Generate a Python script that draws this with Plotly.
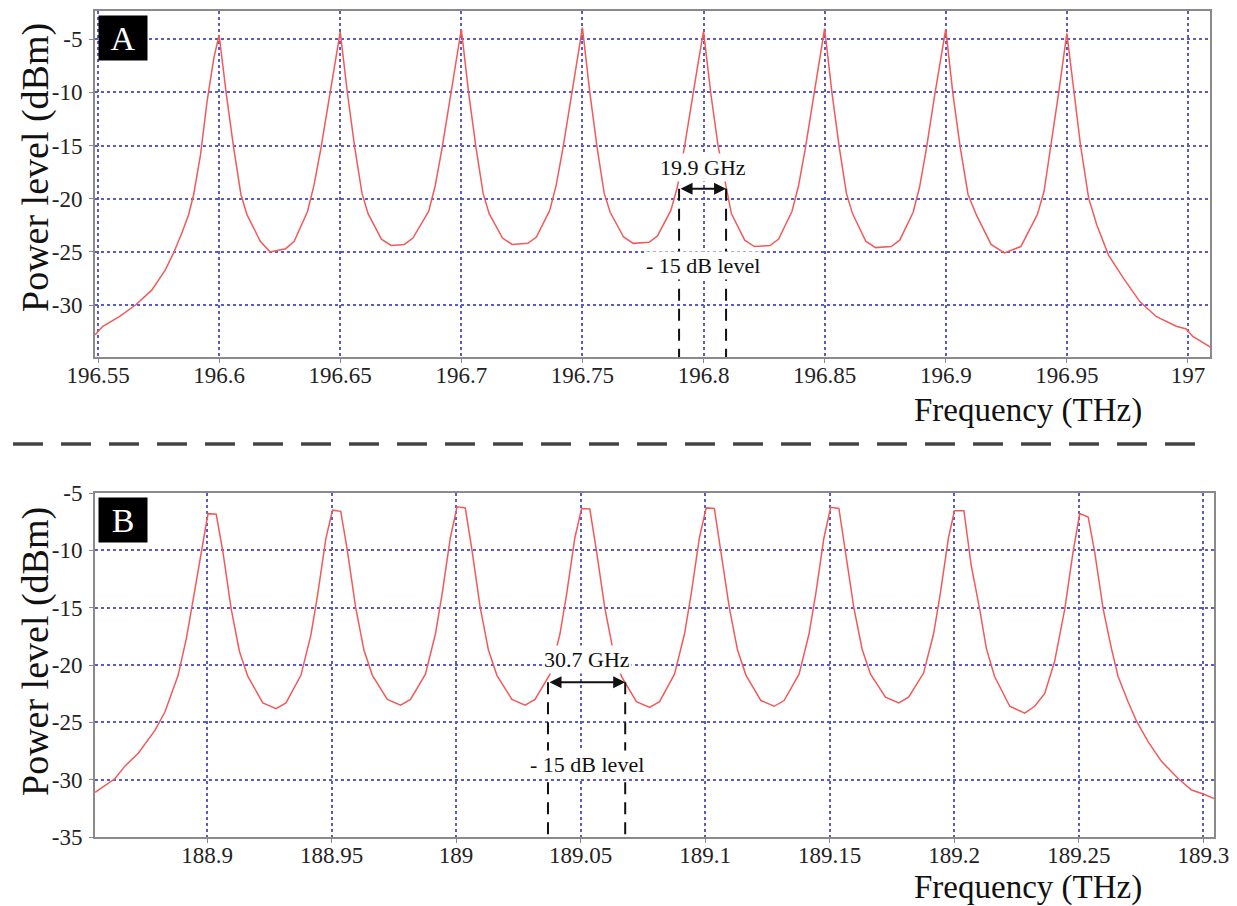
import plotly.graph_objects as go

# ---------------- Data: panel A ----------------
freq_a = [
    196.5488, 196.552, 196.5588, 196.5655, 196.5722, 196.5778, 196.5812, 196.5845, 196.5874, 196.5895,
    196.5923, 196.595, 196.5978, 196.6,
    196.603, 196.606, 196.609, 196.6115, 196.617, 196.621, 196.6275, 196.631, 196.6365, 196.6392,
    196.642, 196.6454, 196.6475, 196.65,
    196.653, 196.656, 196.659, 196.6615, 196.667, 196.671, 196.6765, 196.68, 196.6865, 196.6892,
    196.692, 196.6954, 196.6975, 196.7,
    196.703, 196.706, 196.709, 196.7115, 196.717, 196.721, 196.7275, 196.731, 196.7365, 196.7392,
    196.742, 196.7454, 196.7475, 196.75,
    196.753, 196.756, 196.759, 196.7615, 196.767, 196.771, 196.7775, 196.781, 196.7865, 196.7892,
    196.792, 196.7954, 196.7975, 196.8,
    196.803, 196.806, 196.8093, 196.8115, 196.817, 196.821, 196.8275, 196.831, 196.8365, 196.8392,
    196.842, 196.8454, 196.8475, 196.85,
    196.853, 196.856, 196.859, 196.8615, 196.867, 196.871, 196.8775, 196.881, 196.8865, 196.8892,
    196.892, 196.8954, 196.8975, 196.9,
    196.903, 196.906, 196.9092, 196.9126, 196.9187, 196.9242, 196.931, 196.9378, 196.9406, 196.9433,
    196.9467, 196.95,
    196.9529, 196.9556, 196.959, 196.9624, 196.9672, 196.9734, 196.9802, 196.987, 196.9952, 196.9993,
    197.002, 197.0096,
]
power_a = [
    -32.8, -32.0, -31.1, -30.0, -28.6, -26.7, -25.1, -23.3, -21.5, -19.6,
    -15.9, -10.9, -6.8, -4.6,
    -10.2, -15.2, -19.6, -21.5, -24.0, -25.0, -24.7, -24.0, -21.2, -18.7,
    -15.3, -10.5, -7.7, -4.3,
    -10.1, -15.2, -19.5, -21.4, -23.8, -24.4, -24.3, -23.7, -21.2, -18.8,
    -15.3, -10.4, -7.6, -4.05,
    -10.0, -15.1, -19.5, -21.4, -23.7, -24.3, -24.2, -23.6, -21.1, -18.7,
    -15.2, -10.3, -7.4, -3.9,
    -9.9, -15.1, -19.5, -21.3, -23.6, -24.2, -24.1, -23.5, -21.1, -18.9,
    -15.3, -10.4, -7.6, -4.25,
    -10.1, -15.0, -19.0, -21.4, -23.9, -24.5, -24.4, -23.8, -21.2, -18.8,
    -15.3, -10.3, -7.5, -4.0,
    -10.0, -15.1, -19.5, -21.4, -24.0, -24.6, -24.5, -23.9, -21.3, -18.9,
    -15.3, -10.3, -7.6, -4.05,
    -10.2, -15.2, -19.6, -21.5, -24.3, -25.1, -24.5, -21.5, -19.3, -15.25,
    -9.9, -4.45,
    -9.9, -14.9, -19.95, -22.5, -25.3, -27.5, -29.7, -31.1, -32.0, -32.25,
    -32.96, -34.0,
]

# ---------------- Data: panel B ----------------
freq_b = [
    188.8551, 188.8631, 188.8671, 188.8724, 188.8791, 188.8831, 188.8884, 188.8917, 188.895, 188.8977,
    188.9004, 188.9037, 188.9064, 188.9097, 188.913, 188.9164, 188.9224, 188.9277, 188.9317, 188.9377,
    188.9417, 188.9444, 188.9477,
    188.9504, 188.9537, 188.9564, 188.9597, 188.963, 188.9664, 188.9724, 188.9777, 188.9817, 188.9877,
    188.9917, 188.9944, 188.9977,
    189.0004, 189.0037, 189.0064, 189.0097, 189.013, 189.0164, 189.0224, 189.0277, 189.0317, 189.0377,
    189.0417, 189.0444, 189.0477,
    189.0504, 189.0537, 189.0564, 189.0597, 189.063, 189.0664, 189.0724, 189.0777, 189.0817, 189.0877,
    189.0917, 189.0944, 189.0977,
    189.1004, 189.1037, 189.1064, 189.1097, 189.113, 189.1164, 189.1224, 189.1277, 189.1317, 189.1377,
    189.1417, 189.1444, 189.1477,
    189.1504, 189.1537, 189.1564, 189.1597, 189.163, 189.1664, 189.1724, 189.1777, 189.1817, 189.1877,
    189.1917, 189.1944, 189.1977,
    189.2001, 189.2039, 189.2068, 189.2102, 189.2129, 189.2162, 189.2223, 189.2283, 189.2323, 189.2363,
    189.2403, 189.2444, 189.2477,
    189.2504, 189.2538, 189.2564, 189.2598, 189.2631, 189.2658, 189.2698, 189.2732, 189.2779, 189.2832,
    189.2899, 189.2953, 189.3, 189.3044,
]
power_b = [
    -31.1, -29.9, -28.8, -27.7, -25.7, -24.1, -20.9, -17.7, -13.6, -10.0,
    -6.8, -6.85, -10.15, -15.1, -18.8, -21.0, -23.3, -23.8, -23.3, -20.9,
    -17.4, -13.9, -9.0,
    -6.5, -6.6, -10.1, -15.0, -18.7, -20.9, -23.0, -23.5, -23.0, -20.8,
    -17.3, -13.8, -8.9,
    -6.2, -6.3, -10.0, -15.0, -18.7, -20.9, -23.0, -23.5, -23.0, -20.8,
    -17.3, -13.8, -8.9,
    -6.35, -6.4, -10.1, -15.0, -18.7, -21.0, -23.2, -23.7, -23.2, -20.8,
    -17.3, -13.8, -8.9,
    -6.3, -6.35, -10.1, -15.0, -18.7, -20.9, -23.1, -23.6, -23.1, -20.8,
    -17.3, -13.8, -8.9,
    -6.25, -6.35, -10.1, -15.0, -18.6, -20.8, -22.8, -23.3, -22.8, -20.7,
    -17.3, -13.8, -8.9,
    -6.55, -6.55, -11.3, -15.1, -18.55, -21.0, -23.6, -24.2, -23.6, -22.5,
    -19.7, -15.1, -10.15,
    -6.8, -7.1, -10.15, -15.1, -18.55, -21.0, -23.2, -24.9, -26.7, -28.4,
    -29.9, -30.9, -31.25, -31.65,
]

# Tick values
xticks_a = [196.55, 196.6, 196.65, 196.7, 196.75, 196.8, 196.85, 196.9, 196.95, 197.0]
xtick_text_a = ["196.55", "196.6", "196.65", "196.7", "196.75", "196.8", "196.85", "196.9", "196.95", "197"]
yticks_a = [-30, -25, -20, -15, -10, -5]
xticks_b = [188.9, 188.95, 189.0, 189.05, 189.1, 189.15, 189.2, 189.25, 189.3]
xtick_text_b = ["188.9", "188.95", "189", "189.05", "189.1", "189.15", "189.2", "189.25", "189.3"]
yticks_b = [-35, -30, -25, -20, -15, -10, -5]
ytick_text_a = ["-30", "-25", "-20", "-15", "-10", "-5"]
ytick_text_b = ["-35", "-30", "-25", "-20", "-15", "-10", "-5"]

# Spacing markers (-15 dB level width)
mark_a = {"x0": 196.7899, "x1": 196.8093, "y": -19.07, "ybot": -34.89, "label": "19.9 GHz"}
mark_b = {"x0": 189.0369, "x1": 189.0679, "y": -21.5, "ybot": -35.0, "label": "30.7 GHz"}

SERIF = "Liberation Serif"
LINE = "#f25a5a"
GRID = "#5a5ac8"
FRAME = "#8a8a8a"

fig = go.Figure()
fig.add_trace(go.Scatter(x=freq_a, y=power_a, mode="lines",
                         line=dict(color=LINE, width=1.5), xaxis="x", yaxis="y", showlegend=False))
fig.add_trace(go.Scatter(x=freq_b, y=power_b, mode="lines",
                         line=dict(color=LINE, width=1.5), xaxis="x2", yaxis="y2", showlegend=False))

W, H = 1237, 906
ml, mr, mt, mb = 95, 23, 11, 69
pw = W - ml - mr
ph = H - mt - mb


def px_x(p):
    return (p - ml) / pw


def px_y(p):
    return (H - mb - p) / ph


axis_common = dict(
    showgrid=True, gridcolor=GRID, gridwidth=1.5, griddash="dot",
    showline=True, linecolor=FRAME, linewidth=2, mirror=True,
    ticks="outside", ticklen=4, tickcolor=FRAME,
    tickfont=dict(family=SERIF, size=23, color="#222"),
    zeroline=False, automargin=False,
)

fig.update_layout(
    template="none",
    width=W, height=H, autosize=False,
    margin=dict(l=ml, r=mr, t=mt, b=mb, pad=0),
    paper_bgcolor="white", plot_bgcolor="white",
    font=dict(family=SERIF, color="#222"),
    xaxis=dict(domain=[0, px_x(1210)], range=[196.54876, 197.0091], anchor="y",
               tickvals=xticks_a, ticktext=xtick_text_a, ticklabelstandoff=-8, **axis_common),
    yaxis=dict(domain=[px_y(357), 1.0], range=[-34.89, -2.34], anchor="x",
               tickvals=yticks_a, ticktext=ytick_text_a, ticklabelstandoff=2, **axis_common),
    xaxis2=dict(domain=[0, 1.0], range=[188.85503, 189.3043], anchor="y2",
                tickvals=xticks_b, ticktext=xtick_text_b, ticklabelstandoff=-8, **axis_common),
    yaxis2=dict(domain=[0, px_y(493)], range=[-35, -5], anchor="x2",
                tickvals=yticks_b, ticktext=ytick_text_b, ticklabelstandoff=2, **axis_common),
)

annotations = []
shapes = []

for m, xr, yr in [(mark_a, "x", "y"), (mark_b, "x2", "y2")]:
    for xv in (m["x0"], m["x1"]):
        shapes.append(dict(type="line", xref=xr, yref=yr, x0=xv, x1=xv, y0=m["y"], y1=m["ybot"],
                           line=dict(color="#111", width=2, dash="12px,8px")))
    annotations.append(dict(xref=xr, yref=yr, x=m["x1"], y=m["y"], ax=m["x0"], ay=m["y"],
                            axref=xr, ayref=yr, text="", showarrow=True, arrowhead=2,
                            arrowside="end+start", arrowsize=1.2, arrowwidth=2, arrowcolor="#111",
                            standoff=0, startstandoff=0))
    xc = (m["x0"] + m["x1"]) / 2
    annotations.append(dict(xref=xr, yref=yr, x=xc, y=m["y"] + 2.0, text=m["label"], showarrow=False,
                            font=dict(family=SERIF, size=22, color="#111"), bgcolor="white",
                            yanchor="middle"))
    annotations.append(dict(xref=xr, yref=yr, x=xc, y=m["y"] - 7.2, text="- 15 dB level",
                            showarrow=False, font=dict(family=SERIF, size=22, color="#111"),
                            bgcolor="white", yanchor="middle"))

# Panel letters
for letter, xr, yr in [("A", "x domain", "y domain"), ("B", "x2 domain", "y2 domain")]:
    annotations.append(dict(xref=xr, yref=yr, x=0.003, y=0.988, xanchor="left", yanchor="top",
                            text=letter, showarrow=False, bgcolor="black", width=46, height=42,
                            font=dict(family=SERIF, size=34, color="white")))

# Axis titles
for yc in (168, 652):
    annotations.append(dict(xref="paper", yref="paper", x=px_x(35), y=px_y(yc), text="Power level (dBm)",
                            showarrow=False, textangle=-90, xanchor="center", yanchor="middle",
                            font=dict(family=SERIF, size=38, color="#111")))
for yc in (410, 887):
    annotations.append(dict(xref="paper", yref="paper", x=px_x(1028), y=px_y(yc), text="Frequency (THz)",
                            showarrow=False, xanchor="center", yanchor="middle", borderpad=0,
                            font=dict(family=SERIF, size=33, color="#111")))

# Separator dashed line
shapes.append(dict(type="line", xref="paper", yref="paper", x0=px_x(13), x1=px_x(1212),
                   y0=px_y(444), y1=px_y(444), line=dict(color="#444", width=3.5, dash="30px,18px")))

fig.update_layout(annotations=annotations, shapes=shapes)
fig.write_html("out.html", config={"displayModeBar": False},
               post_script="document.body.style.margin='0';document.body.style.overflow='hidden';")
